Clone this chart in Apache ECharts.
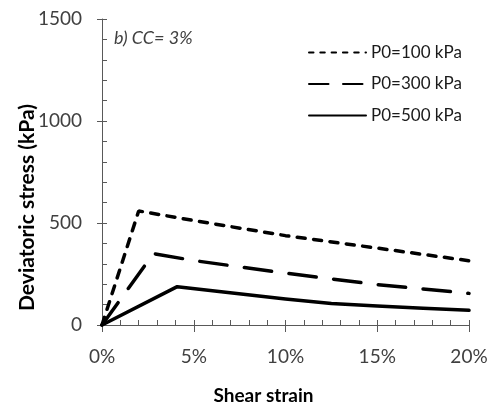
<!DOCTYPE html>
<html>
<head>
<meta charset="utf-8">
<script src="https://cdn.jsdelivr.net/npm/echarts@6/dist/echarts.min.js"></script>
<style>
html,body{margin:0;padding:0;background:#fff;}
#chart{width:491px;height:405px;}
</style>
</head>
<body>
<div id="chart"></div>
<script>
// Data
var seriesNames = ['P0=100 kPa', 'P0=300 kPa', 'P0=500 kPa'];
var strain100 = [0, 2, 5, 10, 15, 20];
var stress100 = [0, 559, 512, 438, 377, 315];
var strain300 = [0, 2.8, 5, 10, 15, 20];
var stress300 = [0, 350, 316, 254, 198, 155];
var strain500 = [0, 4.1, 6.5, 10, 12.5, 15, 17.5, 20];
var stress500 = [0, 188, 163, 127, 105, 93, 82, 72];
var xTicks = [0, 5, 10, 15, 20];       // %
var yTicks = [0, 500, 1000, 1500];     // kPa
var panelLabel = 'b) CC= 3%';

function pairs(xs, ys) { return xs.map(function (x, i) { return [x, ys[i]]; }); }

var axisColor = '#595959';
var labelColor = '#404040';
var font = 'Lato';
var hidden = { color: 'rgba(0,0,0,0)', borderColor: 'rgba(0,0,0,0)', borderWidth: 0, opacity: 0 };

var chart = echarts.init(document.getElementById('chart'), null, { renderer: 'canvas' });
chart.setOption({
  animation: false,
  backgroundColor: '#ffffff',
  title: {
    text: panelLabel,
    left: 114, top: 29, padding: 0,
    textStyle: { fontFamily: font, fontStyle: 'italic', fontWeight: 'normal', fontSize: 18, color: labelColor }
  },
  legend: {
    orient: 'vertical', left: 308, top: 44, padding: 0,
    itemWidth: 57, itemHeight: 14, itemGap: 14.5,
    itemStyle: hidden,
    textStyle: { fontFamily: font, fontSize: 17, color: '#1a1a1a' },
    data: [
      { name: seriesNames[0], lineStyle: { type: [4.5, 6.8] } },
      { name: seriesNames[1], lineStyle: { type: [19.5, 14.5] } },
      { name: seriesNames[2] }
    ]
  },
  grid: { left: 102, right: 22, top: 19, bottom: 80, containLabel: false, outerBoundsMode: 'none' },
  xAxis: [{
    type: 'value', min: xTicks[0], max: xTicks[xTicks.length - 1], interval: 5,
    position: 'bottom',
    axisLine: { show: true, onZero: false, lineStyle: { color: axisColor, width: 1 } },
    axisTick: { show: true, inside: false, length: 7, lineStyle: { color: axisColor } },
    axisLabel: { margin: 22, fontFamily: font, fontSize: 19, color: labelColor, formatter: '{value}%' },
    splitLine: { show: false },
    name: 'Shear strain', nameLocation: 'middle', nameGap: 61, nameMoveOverlap: false,
    nameTextStyle: { fontFamily: font, fontWeight: 'bold', fontSize: 19, color: '#000', padding: [0, 44, 0, 0] }
  }, {
    type: 'value', min: xTicks[0], max: xTicks[xTicks.length - 1], interval: 1,
    position: 'bottom',
    axisLine: { show: false, onZero: false },
    axisTick: { show: true, inside: true, length: 5, lineStyle: { color: axisColor } },
    axisLabel: { show: false },
    splitLine: { show: false }
  }],
  yAxis: [{
    type: 'value', min: yTicks[0], max: yTicks[yTicks.length - 1], interval: 500,
    position: 'left',
    axisLine: { show: true, onZero: false, lineStyle: { color: axisColor, width: 1 } },
    axisTick: { show: true, inside: false, length: 5, lineStyle: { color: axisColor } },
    axisLabel: { margin: 20, fontFamily: font, fontSize: 19, color: labelColor, formatter: function (v) { return String(v); } },
    splitLine: { show: false },
    name: 'Deviatoric stress (kPa)', nameLocation: 'middle', nameGap: 64, nameMoveOverlap: false,
    nameTextStyle: { fontFamily: font, fontWeight: 'bold', fontSize: 21, color: '#000', padding: [0, 71, 0, 0] }
  }, {
    type: 'value', min: yTicks[0], max: yTicks[yTicks.length - 1], interval: 100,
    position: 'left',
    axisLine: { show: false, onZero: false },
    axisTick: { show: true, inside: true, length: 5, lineStyle: { color: axisColor } },
    axisLabel: { show: false },
    splitLine: { show: false }
  }],
  series: [{
    name: seriesNames[0], type: 'line', xAxisIndex: 0, yAxisIndex: 0,
    data: pairs(strain100, stress100), symbol: 'none', color: '#000',
    lineStyle: { color: '#000', width: 3.5, type: [8, 8.5], cap: 'round' }
  }, {
    name: seriesNames[1], type: 'line', xAxisIndex: 0, yAxisIndex: 0,
    data: pairs(strain300, stress300), symbol: 'none', color: '#000',
    lineStyle: { color: '#000', width: 3.5, type: [27.5, 17.5], cap: 'round' }
  }, {
    name: seriesNames[2], type: 'line', xAxisIndex: 0, yAxisIndex: 0,
    data: pairs(strain500, stress500), symbol: 'none', color: '#000',
    lineStyle: { color: '#000', width: 3.5, type: 'solid', cap: 'round', join: 'round' }
  }]
});
</script>
</body>
</html>
